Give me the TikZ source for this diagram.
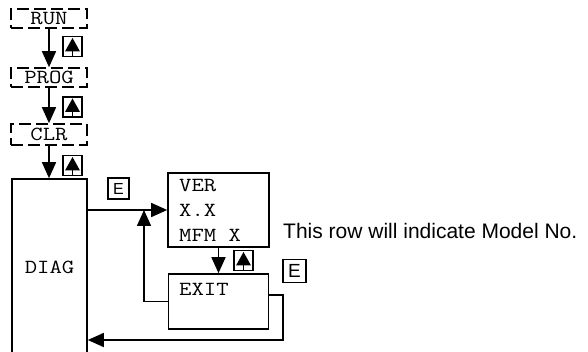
\documentclass[tikz,border=0pt]{standalone}
\usepackage{fontspec}
\setmonofont{Latin Modern Mono}[FakeStretch=1.2]
\newfontfamily\arialf{Liberation Sans}
\usetikzlibrary{arrows.meta,calc}
\begin{document}
\begin{tikzpicture}[x=1pt,y=-1pt,
  lw/.style={line width=1.6pt},
  mono/.style={font=\ttfamily\fontsize{20}{20}\selectfont},
  dbox/.style={draw,lw,dash pattern=on 12pt off 5pt,minimum width=76pt,inner sep=0,mono},
  box/.style={draw,lw,inner sep=0},
  lbl/.style={mono,anchor=base west,inner sep=0},
  arr/.style={lw,-{Triangle[length=16pt,width=14pt]}},
  ekey/.style={draw,line width=1.8pt,inner sep=0},
  upkey/.style={draw,lw,minimum width=19pt,minimum height=20pt,inner sep=0,
    path picture={
      \fill ([yshift=8.5pt]path picture bounding box.center)
        -- ([xshift=-7.5pt,yshift=-5pt]path picture bounding box.center)
        -- ([xshift=7.5pt,yshift=-5pt]path picture bounding box.center) -- cycle;
      \draw[line width=1.3pt] ([yshift=-4pt]path picture bounding box.center)
        -- ([yshift=-12pt]path picture bounding box.center);
    }},
]
\useasboundingbox (0,0) rectangle (588,352);

\node[dbox,minimum height=19pt] (run) at (49,18.5) {RUN};
\node[dbox,minimum height=19pt] (prog) at (49,77.5) {PROG};
\node[dbox,minimum height=21pt] (clr) at (49,134.5) {CLR};
\node[box,mono,minimum width=75pt,minimum height=176pt] (diag) at (49.5,267) {DIAG};

\node[box,minimum width=101pt,minimum height=74pt] (ver) at (218.5,210) {};
\node[lbl] (verA) at (179,192) {VER};
\node[lbl] (verB) at (179,217) {X.X};
\node[lbl] (verC) at (179,242) {MFM X};

\node[box,minimum width=100pt,minimum height=55pt] (exit) at (218.5,301.5) {};
\node[lbl] (exitA) at (179,295) {EXIT};

\node[anchor=base west,inner sep=0,font=\arialf\fontsize{21}{21}\selectfont] (note) at (283,239) {This row will indicate Model No.};

\node[upkey] (k1) at (72.5,46.5) {};
\node[upkey] (k2) at (72.5,107) {};
\node[upkey] (k3) at (72.5,165.5) {};
\node[upkey] (k4) at (243.5,260.5) {};

\node[ekey,minimum size=21pt,font=\arialf\fontsize{16}{16}\selectfont] (e1) at (118.5,188.5) {E};
\node[ekey,minimum size=23pt,font=\arialf\fontsize{19}{19}\selectfont] (e2) at (294.5,271) {E};

\draw[arr] (run) -- (prog);
\draw[arr] (prog) -- (clr);
\draw[arr] (clr) -- (clr |- diag.north);
\draw[arr] (diag.east |- ver.west) -- (ver.west);
\draw[arr] (ver) -- (exit);
\coordinate (fb) at (144,210);
\draw[arr] (exit.west) -| (fb);
\coordinate (ret) at (283,340);
\draw[arr] ([yshift=6.5pt]exit.east) -| (ret) -- (diag.east |- ret);
\end{tikzpicture}
\end{document}
